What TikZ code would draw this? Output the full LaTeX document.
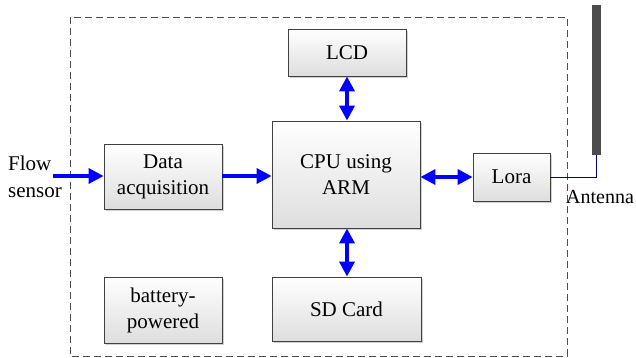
\documentclass[tikz,border=0pt]{standalone}
\usepackage{fontspec}
\setmainfont{Liberation Serif}
\usetikzlibrary{arrows.meta,shadows}
\begin{document}
\begin{tikzpicture}[x=1pt,y=-1pt,
 blk/.style={draw=black!75, line width=0.8pt, top color=white, bottom color=black!13,
   drop shadow={shadow xshift=2pt,shadow yshift=-2pt,fill=black!30,opacity=0.6},
   font=\fontsize{21}{26}\selectfont, align=center, inner sep=0pt},
 tipb/.tip={Triangle[length=15pt,width=15pt]},
 barrow/.style={blue, line width=3.5pt, -tipb},
 darrow/.style={blue, line width=3.5pt, tipb-tipb},
 lbl/.style={font=\fontsize{21}{27}\selectfont, align=left, inner sep=0pt}]
\useasboundingbox (0,0) rectangle (636,358);
\draw[black!70, line width=0.9pt, dash pattern=on 7pt off 4pt] (70,17) rectangle (567,356);
\node[blk, minimum width=118, minimum height=47] (lcd) at (347,52.5) {LCD};
\node[blk, minimum width=148, minimum height=107] (cpu) at (346,174.5) {CPU using\\ARM};
\node[blk, minimum width=77, minimum height=48] (lora) at (511.5,177) {Lora};
\node[blk, minimum width=118, minimum height=65] (data) at (163,176.5) {Data\\acquisition};
\node[blk, minimum width=118, minimum height=66] (bat) at (163,310) {battery-\\powered};
\node[blk, minimum width=149, minimum height=64] (sd) at (346.5,309) {SD Card};
\node[fill=black!70, minimum width=9, minimum height=150, inner sep=0pt] (ant) at (596.5,80) {};
\node[lbl, font=\fontsize{20}{24}\selectfont, anchor=base west] (antl) at (566,203) {Antenna};
\node[lbl, anchor=west] (flow) at (8,177) {Flow\\sensor};
\coordinate (fs) at (53,176);
\draw[blue!50!black, line width=1pt] (lora.east) -| (ant.south);
\draw[barrow] (fs) -- (data.west |- fs);
\draw[barrow] (data.east |- fs) -- (cpu.west |- fs);
\draw[darrow] (cpu.east |- lora.east) -- (lora.west);
\draw[darrow] (lcd.south) -- (lcd.south |- cpu.north);
\draw[darrow] (lcd.south |- cpu.south) -- (lcd.south |- sd.north);
\end{tikzpicture}
\end{document}
